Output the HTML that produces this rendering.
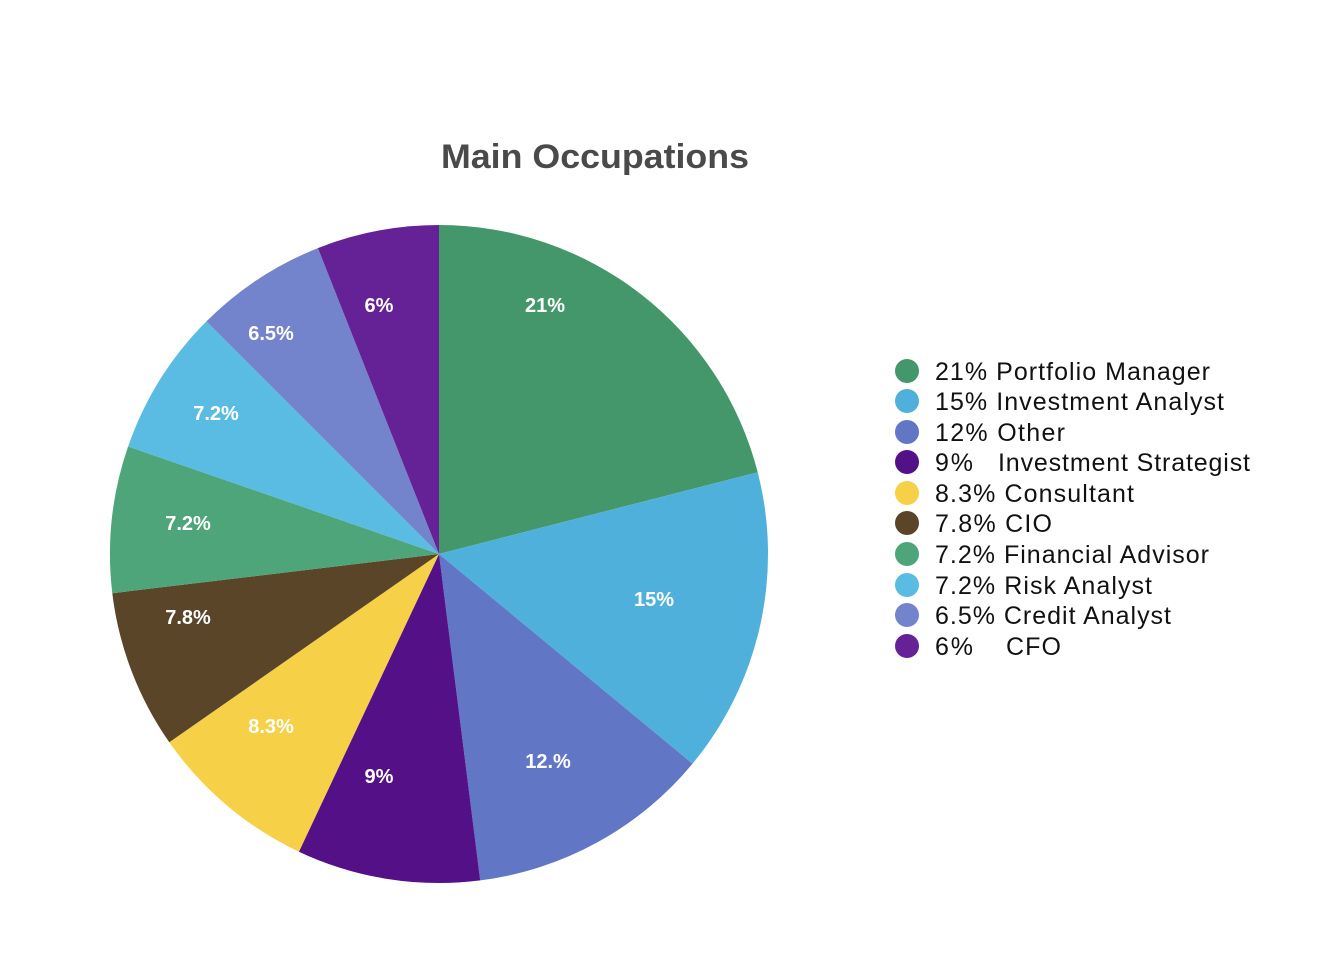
<!DOCTYPE html>
<html><head><style>body{margin:0;background:#fff}</style></head><body>
<svg width="1340" height="960" xmlns="http://www.w3.org/2000/svg" font-family="Liberation Sans, Arial, sans-serif">
<text x="441" y="168" font-size="34" font-weight="bold" fill="#4a4a4a" textLength="308" lengthAdjust="spacingAndGlyphs">Main Occupations</text>
<g stroke="none">
<path d="M439,554 L439,225 A329,329 0 0 1 757.7,472.2 Z" fill="#44976a"/>
<path d="M439,554 L757.7,472.2 A329,329 0 0 1 692.5,763.7 Z" fill="#50b0dc"/>
<path d="M439,554 L692.5,763.7 A329,329 0 0 1 480.2,880.4 Z" fill="#6177c6"/>
<path d="M439,554 L480.2,880.4 A329,329 0 0 1 298.9,851.7 Z" fill="#541086"/>
<path d="M439,554 L298.9,851.7 A329,329 0 0 1 169.3,742.3 Z" fill="#f6d046"/>
<path d="M439,554 L169.3,742.3 A329,329 0 0 1 112.3,593.2 Z" fill="#5a4529"/>
<path d="M439,554 L112.3,593.2 A329,329 0 0 1 128.1,446.5 Z" fill="#4ea57a"/>
<path d="M439,554 L128.1,446.5 A329,329 0 0 1 206.4,321.4 Z" fill="#5abce2"/>
<path d="M439,554 L206.4,321.4 A329,329 0 0 1 317.9,248.1 Z" fill="#7484cc"/>
<path d="M439,554 L317.9,248.1 A329,329 0 0 1 439,225 Z" fill="#652196"/>
</g>
<g fill="#fff" font-size="20" font-weight="bold" text-anchor="middle">
<text x="545" y="312">21%</text>
<text x="654" y="606">15%</text>
<text x="548" y="768">12.%</text>
<text x="379" y="783">9%</text>
<text x="271" y="733">8.3%</text>
<text x="188" y="624">7.8%</text>
<text x="188" y="530">7.2%</text>
<text x="216" y="420">7.2%</text>
<text x="271" y="340">6.5%</text>
<text x="379" y="312">6%</text>
</g>
<g font-size="25" fill="#111" lengthAdjust="spacingAndGlyphs">
<circle cx="907" cy="371" r="12" fill="#44976a"/><text x="935" y="380" textLength="275">21% Portfolio Manager</text>
<circle cx="907" cy="401" r="12" fill="#50b0dc"/><text x="935" y="410" textLength="289">15% Investment Analyst</text>
<circle cx="907" cy="432" r="12" fill="#6177c6"/><text x="935" y="441" textLength="130">12% Other</text>
<circle cx="907" cy="462" r="12" fill="#541086"/><text x="935" y="471" textLength="38">9%</text><text x="998" y="471" textLength="252">Investment Strategist</text>
<circle cx="907" cy="493" r="12" fill="#f6d046"/><text x="935" y="502" textLength="199">8.3% Consultant</text>
<circle cx="907" cy="523" r="12" fill="#5a4529"/><text x="935" y="532" textLength="117">7.8% CIO</text>
<circle cx="907" cy="554" r="12" fill="#4ea57a"/><text x="935" y="563" textLength="274">7.2% Financial Advisor</text>
<circle cx="907" cy="585" r="12" fill="#5abce2"/><text x="935" y="594" textLength="217">7.2% Risk Analyst</text>
<circle cx="907" cy="615" r="12" fill="#7484cc"/><text x="935" y="624" textLength="236">6.5% Credit Analyst</text>
<circle cx="907" cy="646" r="12" fill="#652196"/><text x="935" y="655" textLength="38">6%</text><text x="1006" y="655" textLength="55">CFO</text>
</g>
</svg>
</body></html>
